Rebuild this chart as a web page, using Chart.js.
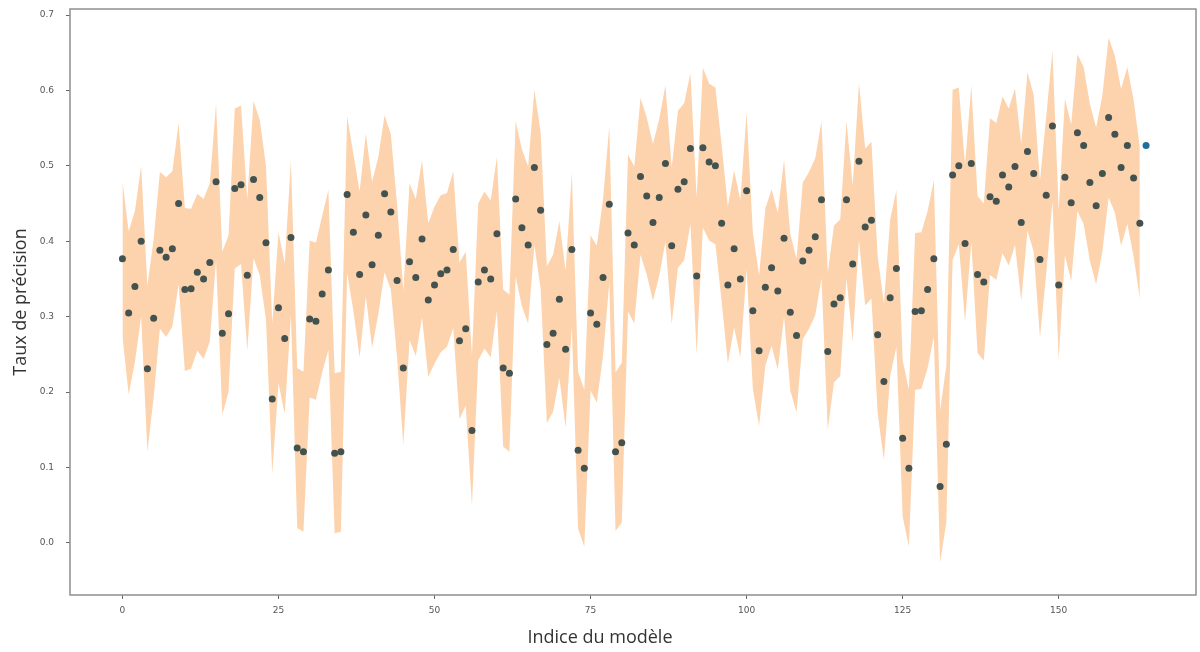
<!DOCTYPE html>
<html>
<head>
<meta charset="utf-8">
<script src="https://cdn.jsdelivr.net/npm/chart.js@4.4.1/dist/chart.umd.min.js"></script>
<style>
  html, body { margin: 0; padding: 0; background: #fff; }
  #wrap { width: 1200px; height: 652px; }
</style>
</head>
<body>
<div id="wrap"><canvas id="graphOutputCanvas" width="1200" height="652"></canvas></div>
<script>
// taux de precision par modele (indice 0..164)
var precision = [
  0.377,0.305,0.340,0.400,0.231,0.298,0.388,0.379,0.390,0.450,
  0.336,0.337,0.359,0.350,0.372,0.479,0.278,0.304,0.470,0.475,
  0.355,0.482,0.458,0.398,0.191,0.312,0.271,0.405,0.126,0.121,
  0.297,0.294,0.330,0.362,0.119,0.121,0.462,0.412,0.356,0.435,
  0.369,0.408,0.463,0.439,0.348,0.232,0.373,0.352,0.403,0.322,
  0.342,0.357,0.362,0.389,0.268,0.284,0.149,0.346,0.362,0.350,
  0.410,0.232,0.225,0.456,0.418,0.395,0.498,0.441,0.263,0.278,
  0.323,0.257,0.389,0.123,0.099,0.305,0.290,0.352,0.449,0.121,
  0.133,0.411,0.395,0.486,0.460,0.425,0.458,0.503,0.394,0.469,
  0.479,0.523,0.354,0.524,0.505,0.500,0.424,0.342,0.390,0.350,
  0.467,0.308,0.255,0.339,0.365,0.334,0.404,0.306,0.275,0.374,
  0.388,0.406,0.455,0.254,0.317,0.325,0.455,0.370,0.506,0.419,
  0.428,0.276,0.214,0.325,0.364,0.139,0.099,0.307,0.308,0.336,
  0.377,0.075,0.131,0.488,0.500,0.397,0.503,0.356,0.346,0.459,
  0.453,0.488,0.472,0.499,0.425,0.519,0.490,0.376,0.461,0.553,
  0.342,0.485,0.451,0.544,0.527,0.478,0.447,0.490,0.564,0.542,
  0.498,0.527,0.484,0.424,0.527
];

// demi-largeur de la bande (indice 0..163)
var ecart = [
  0.103,0.108,0.100,0.100,0.110,0.105,0.104,0.106,0.103,0.107,
  0.108,0.106,0.104,0.106,0.105,0.104,0.108,0.104,0.106,0.105,
  0.100,0.104,0.103,0.102,0.100,0.100,0.100,0.103,0.106,0.106,
  0.104,0.104,0.104,0.106,0.106,0.106,0.104,0.104,0.110,0.108,
  0.110,0.104,0.104,0.103,0.102,0.102,0.104,0.104,0.104,0.102,
  0.104,0.104,0.102,0.104,0.104,0.102,0.100,0.104,0.104,0.104,
  0.102,0.104,0.104,0.103,0.104,0.104,0.103,0.104,0.104,0.104,
  0.104,0.104,0.102,0.104,0.104,0.103,0.104,0.104,0.104,0.105,
  0.106,0.104,0.104,0.104,0.104,0.104,0.104,0.104,0.104,0.104,
  0.104,0.100,0.104,0.106,0.104,0.104,0.104,0.104,0.104,0.104,
  0.104,0.104,0.100,0.104,0.104,0.104,0.104,0.104,0.102,0.104,
  0.104,0.104,0.104,0.104,0.104,0.104,0.104,0.104,0.104,0.104,
  0.104,0.104,0.104,0.104,0.104,0.104,0.104,0.104,0.104,0.104,
  0.104,0.101,0.104,0.113,0.104,0.104,0.104,0.104,0.104,0.104,
  0.104,0.104,0.104,0.104,0.104,0.105,0.104,0.104,0.104,0.100,
  0.099,0.104,0.104,0.104,0.104,0.104,0.104,0.104,0.106,0.104,
  0.104,0.104,0.104,0.100
];

var xTicks = [0, 25, 50, 75, 100, 125, 150];
var yTicks = [0.0, 0.1, 0.2, 0.3, 0.4, 0.5, 0.6, 0.7];

var xTitle = "Indice du modèle";
var yTitle = "Taux de précision";

// build datasets
var points = [];
var pointColors = [];
for (var i = 0; i < precision.length; i++) {
    points.push({x: i, y: precision[i]});
    pointColors.push(i < ecart.length ? "#43524f" : "#1f6e9c");
}
var lower = [];
var upper = [];
for (var j = 0; j < ecart.length; j++) {
    lower.push({x: j, y: precision[j] - ecart[j]});
    upper.push({x: j, y: precision[j] + ecart[j]});
}

// frame + x title
var framePlugin = {
    id: "frame",
    afterDraw: function(chart) {
        var ctx = chart.ctx;
        var a = chart.chartArea;
        ctx.save();
        ctx.strokeStyle = "#8f8f8f";
        ctx.lineWidth = 1.5;
        ctx.strokeRect(a.left, a.top, a.right - a.left, a.bottom - a.top);
        ctx.fillStyle = "#333";
        ctx.font = "18px 'Open Sans'";
        ctx.textAlign = "center";
        ctx.textBaseline = "middle";
        ctx.fillText(xTitle, 600, 638);
        ctx.restore();
    }
};

var currentChart = new Chart(document.getElementById("graphOutputCanvas"), {
    type: "scatter",
    data: {
        datasets: [{
            data: points,
            pointRadius: 3.5,
            pointBorderWidth: 0,
            pointBackgroundColor: pointColors,
            order: 0
        }, {
            type: "line",
            data: lower,
            pointRadius: 0,
            borderWidth: 0,
            borderColor: "rgba(0,0,0,0)",
            fill: false,
            tension: 0,
            order: 1
        }, {
            type: "line",
            data: upper,
            pointRadius: 0,
            borderWidth: 0,
            borderColor: "rgba(0,0,0,0)",
            backgroundColor: "#fdd3ad",
            fill: 1,
            tension: 0,
            order: 2
        }]
    },
    options: {
        responsive: false,
        animation: false,
        layout: { padding: { top: 9, right: 3, left: 0, bottom: 0 } },
        plugins: {
            legend: { display: false },
            tooltip: { enabled: false }
        },
        scales: {
            x: {
                type: "linear",
                min: -8.4,
                max: 172.0,
                afterBuildTicks: function(axis) {
                    axis.ticks = xTicks.map(function(v) { return {value: v}; });
                },
                afterFit: function(axis) {
                    axis.height = 57;
                    axis.paddingLeft = 0;
                    axis.paddingRight = 0;
                },
                border: { display: false },
                grid: { drawOnChartArea: false, tickLength: 4, tickColor: "#666" },
                ticks: {
                    color: "#555",
                    font: { size: 9, family: "'DejaVu Sans'" },
                    padding: 6,
                    maxRotation: 0
                }
            },
            y: {
                type: "linear",
                min: -0.069,
                max: 0.708,
                afterBuildTicks: function(axis) {
                    axis.ticks = yTicks.map(function(v) { return {value: v}; });
                },
                afterFit: function(axis) {
                    axis.width = 70;
                    axis.paddingTop = 0;
                    axis.paddingBottom = 0;
                },
                border: { display: false },
                grid: { drawOnChartArea: false, tickLength: 4, tickColor: "#666" },
                ticks: {
                    color: "#555",
                    font: { size: 9, family: "'DejaVu Sans'" },
                    padding: 12,
                    callback: function(v) { return v.toFixed(1); }
                },
                title: {
                    display: true,
                    text: yTitle,
                    color: "#333",
                    font: { size: 18, family: "'Open Sans'" },
                    padding: { top: 10, bottom: 0 }
                }
            }
        }
    },
    plugins: [framePlugin]
});
</script>
</body>
</html>
